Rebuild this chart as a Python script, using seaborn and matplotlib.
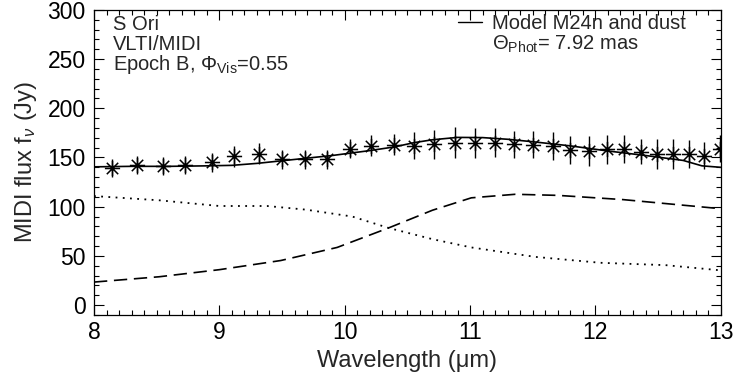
import numpy as np
import pandas as pd
import seaborn as sns
import matplotlib.pyplot as plt
from matplotlib.lines import Line2D
from matplotlib.path import Path
from matplotlib.ticker import MultipleLocator

# measured MIDI fluxes
wl_obs = [8.14, 8.34, 8.55, 8.73, 8.94, 9.12, 9.32, 9.50, 9.68, 9.86, 10.04, 10.21, 10.39,
          10.55, 10.71, 10.88, 11.04, 11.20, 11.35, 11.50, 11.66, 11.80, 11.95, 12.09,
          12.23, 12.36, 12.49, 12.62, 12.75, 12.87, 12.99]
flux_obs = [139, 142, 141, 142, 145, 151, 154, 148, 148, 148, 159, 162, 163,
            162, 163.4, 165, 164.6, 165, 163.4, 163, 161.5, 157.5, 156.6, 158.2,
            158.5, 156, 153.6, 153.6, 153.6, 152, 159]
err_obs = [9, 9, 9, 9, 10, 10.5, 10.5, 10, 10, 10, 10, 11, 10.5,
           13.4, 14.8, 15.6, 15.6, 15, 13.6, 14, 14, 14.4, 14.8, 14.8, 14.4,
           13, 14.8, 14.8, 14.4, 14, 14]

# model M24n + dust (solid)
wl_mod = [8.0, 8.3, 8.6, 8.9, 9.1, 9.3, 9.6, 9.9, 10.2, 10.4, 10.55, 10.7, 10.9, 11.1,
          11.3, 11.5, 11.8, 12.1, 12.4, 12.7, 12.85, 13.0]
flux_mod = [140.5, 141, 141, 141.5, 142, 144, 148, 152, 157, 160.8, 165, 168, 170.4, 170.2,
            168.5, 166, 161.8, 156.6, 152, 147, 141.5, 140]

# dust shell (dashed)
wl_dust = [8.0, 8.52, 9.0, 9.49, 9.94, 10.35, 10.7, 11.01, 11.36, 11.7, 12.22, 12.98, 13.0]
flux_dust = [23.4, 28.8, 36, 45.3, 58.6, 78.4, 96.4, 109, 112.6, 111.5, 107.2, 98.2, 98]

# attenuated stellar (dotted)
wl_star = [8.0, 8.52, 9.0, 9.38, 9.69, 10.06, 10.35, 10.7, 11.01, 11.52, 12.04, 12.56, 13.0]
flux_star = [110.8, 106.5, 100.7, 100.7, 97, 90, 78.4, 67, 58.6, 49, 43, 40.6, 35.3]

sns.set_theme(style="ticks")
plt.rcParams['font.family'] = ['Liberation Sans', 'DejaVu Sans']
plt.rcParams['mathtext.fontset'] = 'custom'
plt.rcParams['mathtext.rm'] = 'Liberation Sans'
plt.rcParams['mathtext.it'] = 'Liberation Sans:italic'

fig = plt.figure(figsize=(7.4, 3.79), dpi=100)
ax = fig.add_axes([0.127, 0.169, 0.847, 0.805])

df_mod = pd.DataFrame({'wl': wl_mod, 'flux': flux_mod})
df_dust = pd.DataFrame({'wl': wl_dust, 'flux': flux_dust})
df_star = pd.DataFrame({'wl': wl_star, 'flux': flux_star})
df_obs = pd.DataFrame({'wl': wl_obs, 'flux': flux_obs, 'err': err_obs})

sns.lineplot(data=df_mod, x='wl', y='flux', color='black', linewidth=1.2, ax=ax)
sns.lineplot(data=df_dust, x='wl', y='flux', color='black', linewidth=1.2,
             linestyle=(0, (8, 4)), ax=ax)
sns.lineplot(data=df_star, x='wl', y='flux', color='black', linewidth=1.3,
             linestyle=(0, (1, 3)), ax=ax)

ax.errorbar(df_obs.wl, df_obs.flux, yerr=df_obs.err, fmt='none', ecolor='black',
            elinewidth=1.0, capsize=0)
star = Path([(0, -1), (0, 1), (-0.75, -0.75), (0.75, 0.75), (-0.75, 0.75), (0.75, -0.75),
             (-1, 0), (1, 0)],
            [Path.MOVETO, Path.LINETO] * 4)
sns.scatterplot(data=df_obs, x='wl', y='flux', marker=star, s=120, color='black',
                linewidth=1.1, edgecolor='black', ax=ax)

ax.set_xlim(8, 13)
ax.set_ylim(-10, 300)
ax.xaxis.set_major_locator(MultipleLocator(1))
ax.xaxis.set_minor_locator(MultipleLocator(0.1))
ax.yaxis.set_major_locator(MultipleLocator(50))
ax.yaxis.set_minor_locator(MultipleLocator(10))
ax.tick_params(which='both', direction='in', top=True, right=True, colors='black',
               labelsize=16.5, width=0.8)
ax.tick_params(which='major', length=7, pad=4)
ax.tick_params(which='minor', length=3.5)
ax.tick_params(axis='y', which='major', pad=6)
for sp in ax.spines.values():
    sp.set_linewidth(0.9)
    sp.set_color('black')

ax.set_xlabel(u'Wavelength (\u03bcm)', fontsize=17, labelpad=5)
ax.set_ylabel(r'MIDI flux f$_{\nu}$ (Jy)', fontsize=17, labelpad=6)

ax.text(0.030, 0.952, 'S Ori', transform=ax.transAxes, fontsize=14.5, va='center')
ax.text(0.030, 0.887, 'VLTI/MIDI', transform=ax.transAxes, fontsize=14.5, va='center')
ax.text(0.030, 0.820, r'Epoch B, $\Phi_{\rm Vis}$=0.55', transform=ax.transAxes,
        fontsize=14.5, va='center')

handles = [Line2D([], [], color='black', linewidth=1.0),
           Line2D([], [], color='none')]
ax.legend(handles, ['Model M24n and dust', r'$\Theta_{\rm Phot}$= 7.92 mas'],
          loc='upper left', bbox_to_anchor=(0.58, 0.985), frameon=False, fontsize=14.5,
          handlelength=1.2, handletextpad=0.5, labelspacing=0.0, borderpad=0,
          borderaxespad=0)

plt.savefig('out.png', dpi=100)
